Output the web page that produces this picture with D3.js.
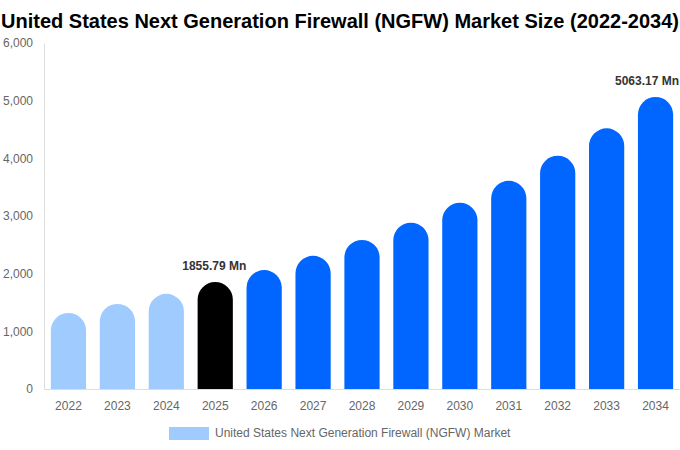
<!DOCTYPE html>
<html><head><meta charset="utf-8">
<script src="https://cdn.jsdelivr.net/npm/d3@7"></script>
<style>body{margin:0;background:#fff;} svg{display:block;font-family:"Liberation Sans",Arial,sans-serif;}</style>
</head><body>
<svg id="c" width="680" height="450"></svg>
<script>
const years = ["2022","2023","2024","2025","2026","2027","2028","2029","2030","2031","2032","2033","2034"];
const values = [1318, 1476, 1650, 1855.79, 2063, 2310, 2585, 2885, 3230, 3610, 4045, 4520, 5063.17];
const yTicks = [0, 1000, 2000, 3000, 4000, 5000, 6000];
const barColors = ["#a0cbff","#a0cbff","#a0cbff","#000000","#0066ff","#0066ff","#0066ff","#0066ff","#0066ff","#0066ff","#0066ff","#0066ff","#0066ff"];
const labels = {"2025":"1855.79 Mn","2034":"5063.17 Mn"};
const title = "United States Next Generation Firewall (NGFW) Market Size (2022-2034)";
const legendLabel = "United States Next Generation Firewall (NGFW) Market";

const W = 680;
const svg = d3.select("#c");
const m = {l:44, r:680, t:43, b:389};
const x = d3.scaleBand().domain(years).range([m.l, m.r]).paddingInner(0.28).paddingOuter(0.14);
const y = d3.scaleLinear().domain([0, 6000]).range([m.b, m.t]);

svg.append("text").attr("x", 340).attr("y", 28).attr("text-anchor","middle")
  .attr("font-size", 20).attr("font-weight","bold").attr("fill","#000").text(title);

// y axis
const ya = svg.append("g").attr("transform",`translate(${m.l},0)`)
  .call(d3.axisLeft(y).tickValues(yTicks).tickFormat(d3.format(",")).tickSize(0).tickPadding(11));
ya.select(".domain").attr("stroke","#dddddd");
ya.selectAll("text").attr("fill","#666").attr("font-size",12).attr("font-family","Liberation Sans, Arial, sans-serif");

// x axis
const xa = svg.append("g").attr("transform",`translate(0,${m.b})`)
  .call(d3.axisBottom(x).tickSize(0).tickPadding(12));
xa.select(".domain").attr("stroke","#dddddd");
xa.selectAll("text").attr("fill","#666").attr("font-size",12).attr("font-family","Liberation Sans, Arial, sans-serif");

// bars with rounded tops
const bw = x.bandwidth();
const r = bw/2;
svg.append("g").selectAll("path").data(years).join("path")
  .attr("fill",(d,i)=>barColors[i])
  .attr("d",(d,i)=>{
    const x0 = x(d), x1 = x0+bw, yb = y(0), yt = y(values[i]);
    return `M${x0},${yb} L${x0},${yt+r} A${r},${r} 0 0 1 ${x1},${yt+r} L${x1},${yb} Z`;
  });

// labels (kept inside the picture)
svg.append("g").selectAll("text").data(years.filter(d=>labels[d])).join("text")
  .attr("x", d=>x(d)+bw/2 - 1).attr("y", d=>y(values[years.indexOf(d)])-12)
  .attr("text-anchor","middle").attr("font-size",12).attr("font-weight","bold").attr("fill","#333")
  .text(d=>labels[d])
  .each(function(){
    const b = this.getBBox();
    if (b.x + b.width > W - 1) {
      d3.select(this).attr("x", +d3.select(this).attr("x") - (b.x + b.width - (W - 1)));
    }
  });

// legend
svg.append("rect").attr("x",169).attr("y",427).attr("width",40).attr("height",13).attr("fill","#a0cbff");
svg.append("text").attr("x",215).attr("y",437).attr("font-size",12).attr("fill","#666").text(legendLabel);
</script>
</body></html>
